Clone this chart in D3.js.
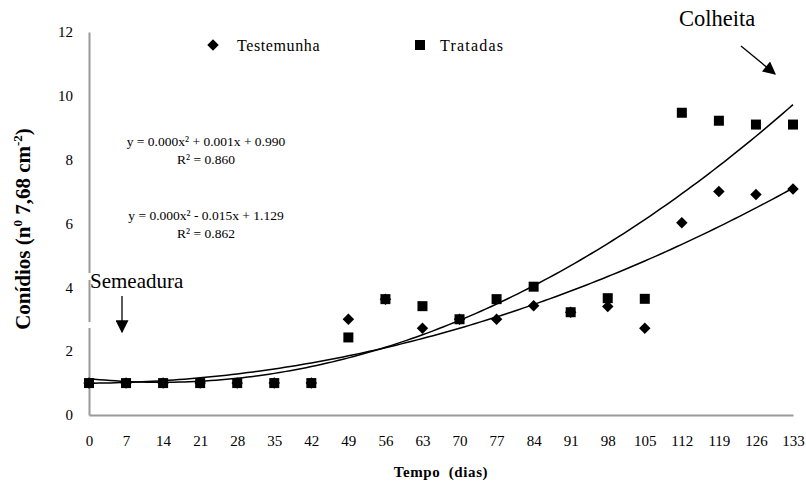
<!DOCTYPE html>
<html><head><meta charset="utf-8">
<script src="https://cdn.jsdelivr.net/npm/d3@7"></script>
<style>body{margin:0;background:#fff}svg{display:block}</style>
</head><body><svg id="c" width="806" height="489" style="font-family:'Liberation Serif',serif"></svg>
<script>
const days = [0,7,14,21,28,35,42,49,56,63,70,77,84,91,98,105,112,119,126,133];
const testemunha = [1,1,1,1,1,1,1,3.0,3.63,2.72,3.0,3.0,3.42,3.22,3.4,2.72,6.02,7.0,6.91,7.08];
const tratadas = [1,1,1,1,1,1,1,2.43,3.63,3.41,3.0,3.63,4.02,3.22,3.66,3.64,9.47,9.22,9.1,9.1];
const yTicks = [0,2,4,6,8,10,12];
const eqTratadas = ["y = 0.000x\u00B2 + 0.001x + 0.990","R\u00B2 = 0.860"];
const eqTestemunha = ["y = 0.000x\u00B2 - 0.015x + 1.129","R\u00B2 = 0.862"];

const FONT = "'Liberation Serif', serif";
const svg = d3.select("#c");
const x = d3.scaleLinear().domain([0,133]).range([89,793]);
const y = d3.scaleLinear().domain([0,12]).range([415,32]);

function quadFit(xs, ys){
  let S=[0,0,0,0,0], T=[0,0,0];
  xs.forEach((xi,i)=>{ for(let k=0;k<5;k++) S[k]+=Math.pow(xi,k); for(let k=0;k<3;k++) T[k]+=ys[i]*Math.pow(xi,k); });
  const A=[[S[0],S[1],S[2],T[0]],[S[1],S[2],S[3],T[1]],[S[2],S[3],S[4],T[2]]];
  for(let i=0;i<3;i++){ for(let j=i+1;j<3;j++){ const f=A[j][i]/A[i][i]; for(let k=i;k<4;k++) A[j][k]-=f*A[i][k]; } }
  const c=[0,0,0];
  for(let i=2;i>=0;i--){ let s=A[i][3]; for(let k=i+1;k<3;k++) s-=A[i][k]*c[k]; c[i]=s/A[i][i]; }
  return v=>c[0]+c[1]*v+c[2]*v*v;
}

const yAxis = d3.axisLeft(y).tickValues(yTicks).tickSize(0).tickPadding(16);
const gy = svg.append("g").attr("transform","translate(89,0)").call(yAxis);
gy.attr("font-family",null);
gy.select(".domain").attr("stroke","#999").attr("stroke-width",2);
gy.selectAll("text").attr("font-size",15).style("font-family",FONT).attr("fill","#000");
const xAxis = d3.axisBottom(x).tickValues(days).tickSize(0).tickPadding(20);
const gx = svg.append("g").attr("transform","translate(0,415)").call(xAxis);
gx.attr("font-family",null);
gx.select(".domain").attr("stroke","#999").attr("stroke-width",2);
gx.selectAll("text").attr("font-size",15).style("font-family",FONT).attr("fill","#000");

const diamond = d3.symbol().type(d3.symbolDiamond2).size(84);
svg.append("g").selectAll("path").data(days).join("path")
  .attr("d",diamond).attr("transform",(d,i)=>`translate(${x(d)},${y(testemunha[i])})`)
  .attr("fill","#000");
svg.append("g").selectAll("rect").data(days).join("rect")
  .attr("x",(d)=>x(d)-5).attr("y",(d,i)=>y(tratadas[i])-5).attr("width",10).attr("height",10).attr("fill","#000");

const grid = d3.range(0,133.5,1);
[testemunha,tratadas].forEach(ser=>{
  const f = quadFit(days, ser);
  svg.append("path").datum(grid).attr("fill","none").attr("stroke","#000").attr("stroke-width",1.5)
    .attr("d", d3.line().x(d=>x(d)).y(d=>y(f(d))));
});

function txt(xx,yy,s,size){ return svg.append("text").attr("x",xx).attr("y",yy).attr("font-size",size).style("font-family",FONT).text(s); }

svg.append("path").attr("d",diamond).attr("transform","translate(213,45)").attr("fill","#000");
txt(237,51,"Testemunha",16).attr("letter-spacing",0.6);
svg.append("rect").attr("x",415).attr("y",40).attr("width",10).attr("height",10).attr("fill","#000");
txt(440,51,"Tratadas",16).attr("letter-spacing",1.2);

[[eqTratadas,146],[eqTestemunha,220]].forEach(([eq,yy])=>{
  txt(206,yy,eq[0],13.5).attr("text-anchor","middle");
  txt(206,yy+18,eq[1],13.5).attr("text-anchor","middle");
});

svg.append("defs").append("marker").attr("id","ah").attr("viewBox","0 0 10 10").attr("refX",9).attr("refY",5)
  .attr("markerWidth",14).attr("markerHeight",13).attr("markerUnits","userSpaceOnUse").attr("orient","auto")
  .append("path").attr("d","M0,0L10,5L0,10Z").attr("fill","#000");

svg.append("rect").attr("x",87).attr("y",273).attr("width",5).attr("height",7).attr("fill","#fff");
svg.append("rect").attr("x",87).attr("y",322).attr("width",5).attr("height",6).attr("fill","#fff");
txt(90,288,"Semeadura",21);
svg.append("line").attr("x1",122).attr("y1",296).attr("x2",122).attr("y2",332).attr("stroke","#000").attr("stroke-width",1.3).attr("marker-end","url(#ah)");

txt(679,26,"Colheita",22.5);
svg.append("line").attr("x1",741).attr("y1",46).attr("x2",775).attr("y2",74).attr("stroke","#000").attr("stroke-width",1.3).attr("marker-end","url(#ah)");

svg.append("text").attr("transform","translate(30,229) rotate(-90)").attr("text-anchor","middle")
  .attr("font-size",21).attr("font-weight","bold").style("font-family",FONT)
  .html('Conídios (n<tspan dy="-8" font-size="13">0</tspan><tspan dy="8"> 7,68 cm</tspan><tspan dy="-8" font-size="13">-2</tspan><tspan dy="8">)</tspan>');
txt(441,477,"Tempo (dias)",15).attr("text-anchor","middle").attr("font-weight","bold").attr("letter-spacing",0.6).attr("word-spacing",4);
</script></body></html>
